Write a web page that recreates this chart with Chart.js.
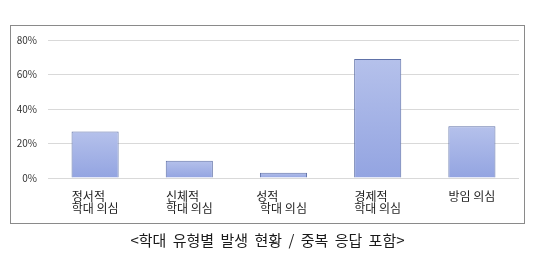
<!DOCTYPE html>
<html>
<head>
<meta charset="utf-8">
<script src="https://cdn.jsdelivr.net/npm/chart.js@4/dist/chart.umd.min.js"></script>
<style>
  html, body { margin: 0; padding: 0; background: #fff; }
  #wrap { position: relative; width: 535px; height: 265px; overflow: hidden; }
  #box { position: absolute; left: 10px; top: 25px; width: 513px; height: 197px; border: 1px solid #8a8a8a; }
  #c { position: absolute; left: 0; top: 0; }
  #caption { position: absolute; left: 0; width: 535px; top: 229px; text-align: center;
    font-family: "Noto Sans CJK KR", sans-serif; font-size: 15px; color: #1a1a1a; word-spacing: 3px; }
</style>
</head>
<body>
<div id="wrap">
  <div id="box"></div>
  <canvas id="c" width="535" height="265"></canvas>
  <div id="caption">&lt;학대 유형별 발생 현황 / 중복 응답 포함&gt;</div>
</div>
<script>
// --- データ ---
const categories = [
  ['정서적     ', '학대 의심'],
  ['신체적     ', '학대 의심'],
  ['성적            ', '학대 의심'],
  ['경제적     ', '학대 의심'],
  '방임 의심'
];
const values = [27, 10, 3, 69, 30];
const yTicks = [0, 20, 40, 60, 80];

const ctx = document.getElementById('c').getContext('2d');

// 棒ごとに上から下へのグラデーション
function barFill(context) {
  const chart = context.chart;
  const area = chart.chartArea;
  if (!area || context.raw === undefined) return '#a3b1e4';
  const top = chart.scales.y.getPixelForValue(context.raw);
  const g = chart.ctx.createLinearGradient(0, top, 0, area.bottom);
  g.addColorStop(0, '#b5c1eb');
  g.addColorStop(1, '#93a4e1');
  return g;
}

new Chart(ctx, {
  type: 'bar',
  data: {
    labels: categories,
    datasets: [{
      data: values,
      backgroundColor: barFill,
      borderColor: '#6072a8',
      borderWidth: 1,
      categoryPercentage: 1,
      barPercentage: 0.5
    }]
  },
  options: {
    responsive: false,
    animation: false,
    layout: { padding: { top: 40, right: 16, left: 0, bottom: 0 } },
    plugins: { legend: { display: false }, tooltip: { enabled: false } },
    scales: {
      x: {
        grid: { display: false, drawTicks: false },
        border: { display: false },
        ticks: {
          color: '#222',
          font: { family: '"Noto Sans CJK KR", sans-serif', size: 12, lineHeight: 0.95 },
          padding: 13,
          maxRotation: 0,
          autoSkip: false
        },
        afterFit: s => { s.height = 87; }
      },
      y: {
        min: 0,
        max: 80,
        afterBuildTicks: s => { s.ticks = yTicks.map(v => ({ value: v })); },
        grid: { color: '#d9d9d9', drawTicks: false },
        border: { display: false },
        ticks: {
          color: '#333',
          font: { family: '"Noto Sans CJK KR", sans-serif', size: 10 },
          padding: 11,
          callback: v => v + '%'
        },
        afterFit: s => { s.width = 48; }
      }
    }
  }
});
</script>
</body>
</html>
